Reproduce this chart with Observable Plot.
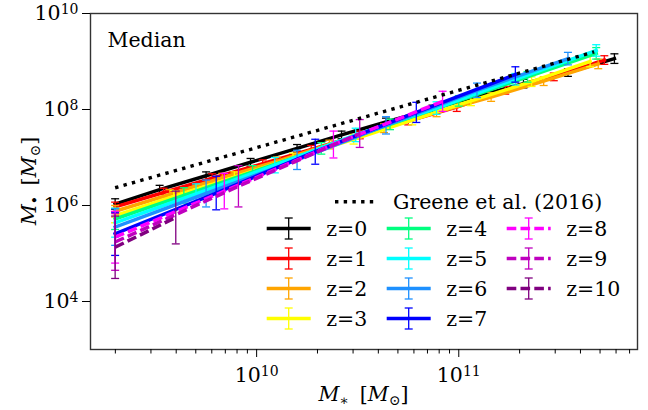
<!DOCTYPE html>
<html><head><meta charset="utf-8">
<script src="https://cdn.jsdelivr.net/npm/d3@7"></script>
<script src="https://cdn.jsdelivr.net/npm/@observablehq/plot@0.6"></script>
<style>body{margin:0;background:#fff;}</style>
</head><body><div id="chart"></div>
<script>
// ---- data (log10 values) ----
const seriesLabels = ["z=0","z=1","z=2","z=3","z=4","z=5","z=6","z=7","z=8","z=9","z=10"];
const seriesColors = ["black","red","orange","yellow","#00ff7f","cyan","#1e90ff","blue","magenta","#bf00bf","purple"];
const seriesDashed = [false,false,false,false,false,false,false,false,true,true,true];

const logMstar = [
  [9.30, 9.52, 9.75, 9.97, 10.20, 10.42, 10.64, 10.87, 11.09, 11.32, 11.54, 11.77],
  [9.30, 9.54, 9.78, 10.03, 10.27, 10.51, 10.75, 10.99, 11.23, 11.47, 11.72],
  [9.30, 9.57, 9.83, 10.10, 10.36, 10.63, 10.89, 11.16, 11.42, 11.69],
  [9.30, 9.59, 9.89, 10.18, 10.48, 10.77, 11.06, 11.36, 11.65],
  [9.30, 9.64, 9.98, 10.32, 10.66, 11.00, 11.34, 11.68],
  [9.30, 9.70, 10.09, 10.49, 10.89, 11.28, 11.68],
  [9.30, 9.75, 10.20, 10.64, 11.09, 11.54],
  [9.30, 9.80, 10.29, 10.79, 11.28],
  [9.30, 9.84, 10.38, 10.92],
  [9.30, 9.91, 10.51],
  [9.30, 9.60]
];
const logMbh = [
  [6.03, 6.33, 6.62, 6.90, 7.19, 7.47, 7.74, 8.01, 8.28, 8.54, 8.77, 9.06],
  [5.97, 6.27, 6.57, 6.87, 7.17, 7.47, 7.76, 8.05, 8.40, 8.68, 9.03],
  [5.88, 6.23, 6.58, 6.92, 7.27, 7.61, 7.94, 8.26, 8.59, 8.95],
  [5.79, 6.19, 6.59, 6.99, 7.38, 7.78, 8.18, 8.58, 9.00],
  [5.72, 6.21, 6.70, 7.19, 7.69, 8.18, 8.68, 9.17],
  [5.64, 6.24, 6.84, 7.47, 8.03, 8.63, 9.23],
  [5.55, 6.25, 6.95, 7.67, 8.40, 9.06],
  [5.41, 6.26, 7.12, 7.94, 8.73],
  [5.34, 6.30, 7.27, 8.17],
  [5.24, 6.40, 7.50],
  [5.13, 5.75]
];
const logErr = [
  [0.11, 0.09, 0.08, 0.08, 0.08, 0.08, 0.08, 0.08, 0.09, 0.09, 0.08, 0.10],
  [0.10, 0.09, 0.09, 0.08, 0.08, 0.08, 0.08, 0.09, 0.08, 0.08, 0.09],
  [0.12, 0.10, 0.09, 0.09, 0.09, 0.09, 0.09, 0.09, 0.09, 0.10],
  [0.15, 0.12, 0.11, 0.10, 0.10, 0.10, 0.10, 0.10, 0.11],
  [0.22, 0.16, 0.13, 0.12, 0.11, 0.11, 0.11, 0.12],
  [0.30, 0.21, 0.16, 0.14, 0.13, 0.12, 0.12],
  [0.38, 0.28, 0.20, 0.18, 0.15, 0.13],
  [0.45, 0.35, 0.26, 0.21, 0.16],
  [0.54, 0.37, 0.28, 0.21],
  [0.59, 0.43, 0.29],
  [0.65, 0.55]
];
const greeneLogMstar = [9.30, 11.67];
const greeneLogMbh = [6.37, 9.20];
const yTicks = [1e4, 1e6, 1e8, 1e10];
const xMajorTicks = [1e10, 1e11];
const xMinorTicks = [2e9,3e9,4e9,5e9,6e9,7e9,8e9,9e9,2e10,3e10,4e10,5e10,6e10,7e10,8e10,9e10,2e11,3e11,4e11,5e11,6e11,7e11];

// ---- build tables ----
const rows = seriesLabels.map((lab, s) => logMstar[s].map((lx, i) => ({
  series: lab,
  x: Math.pow(10, lx),
  y: Math.pow(10, logMbh[s][i]),
  y1: Math.pow(10, logMbh[s][i] - logErr[s][i]),
  y2: Math.pow(10, logMbh[s][i] + logErr[s][i])
})));
const greene = greeneLogMstar.map((lx, i) => ({x: Math.pow(10, lx), y: Math.pow(10, greeneLogMbh[i])}));

const cap = {draw(ctx, size) { const w = Math.sqrt(size / Math.PI); ctx.moveTo(-w, 0); ctx.lineTo(w, 0); }};
const DASH = "9.6,4.2";
const FS = 20.5;
const FONT = "DejaVu Serif";

const marks = [];
rows.forEach((data, s) => {
  const c = seriesColors[s];
  marks.push(Plot.line(data, {x: "x", y: "y", stroke: c, strokeWidth: 3.5,
    strokeDasharray: seriesDashed[s] ? DASH : null, strokeLinecap: seriesDashed[s] ? "butt" : "square",
    strokeLinejoin: "round"}));
  marks.push(Plot.ruleX(data, {x: "x", y1: "y1", y2: "y2", stroke: c, strokeWidth: 1.3}));
  marks.push(Plot.dot(data, {x: "x", y: "y1", symbol: cap, r: 4, stroke: c, fill: "none", strokeWidth: 1.3}));
  marks.push(Plot.dot(data, {x: "x", y: "y2", symbol: cap, r: 4, stroke: c, fill: "none", strokeWidth: 1.3}));
});
marks.push(Plot.line(greene, {x: "x", y: "y", stroke: "black", strokeWidth: 3.4, strokeDasharray: "3.4,5.3", strokeLinecap: "butt"}));
marks.push(Plot.text(["Median"], {frameAnchor: "top-left", dx: 17, dy: 19, fontSize: FS, fill: "black"}));
marks.push(Plot.frame({stroke: "#333", strokeWidth: 1.4}));
marks.push(Plot.axisY({ticks: yTicks, tickSize: 8, tickPadding: 4, label: null, fontSize: FS,
  tickFormat: d => "10^" + Math.round(Math.log10(d))}));
marks.push(Plot.axisX({ticks: xMajorTicks, tickSize: 8, tickPadding: 10, label: null, fontSize: FS,
  tickFormat: d => "10^" + Math.round(Math.log10(d))}));
marks.push(Plot.axisX({ticks: xMinorTicks, tickSize: 4.5, label: null, tickFormat: () => ""}));

const svgEl = Plot.plot({
  width: 648, height: 410,
  marginLeft: 90, marginRight: 11, marginTop: 13, marginBottom: 61,
  style: {fontFamily: FONT, fontSize: FS + "px", background: "white", color: "black"},
  x: {type: "log", domain: [1.507e9, 7.66e11]},
  y: {type: "log", domain: [1e3, 1e10]},
  marks
});
document.getElementById("chart").appendChild(svgEl);

const svg = d3.select(svgEl);
// superscript tick labels
svg.selectAll("text").each(function() {
  const t = this.textContent;
  const m = /^10\^(\d+)$/.exec(t);
  if (m) {
    const sel = d3.select(this);
    sel.text("10");
    sel.append("tspan").attr("dy", "-0.42em").attr("font-size", "14px").text(m[1]);
  }
});

function mathLabel(g, sub) {
  const t = g.append("text").attr("text-anchor", "middle").attr("font-size", FS).attr("fill", "black")
    .attr("font-family", FONT);
  t.append("tspan").attr("font-style", "italic").text("M");
  t.append("tspan").attr("dy", 4).attr("font-size", 14).text(sub);
  t.append("tspan").attr("dy", -4).text("\u2009 [");
  t.append("tspan").attr("font-style", "italic").text("M");
  t.append("tspan").attr("dy", 4).attr("font-size", 14).text("\u2299");
  t.append("tspan").attr("dy", -4).text("]");
  return t;
}
mathLabel(svg.append("g").attr("transform", "translate(363.5,401)"), "\u2217");
mathLabel(svg.append("g").attr("transform", "translate(36,181) rotate(-90)"), "\u2022");

// legend (inside the axes, pixel layout)
const leg = svg.append("g").attr("text-anchor", "start").attr("font-family", FONT).attr("font-size", FS);
leg.append("line").attr("x1", 335).attr("x2", 375).attr("y1", 201.7).attr("y2", 201.7)
  .attr("stroke", "black").attr("stroke-width", 3.4).attr("stroke-dasharray", "3.4,5.3");
leg.append("text").attr("x", 393).attr("y", 209).attr("text-anchor", "start").attr("fill", "black").text("Greene et al. (2016)");
const colX = [266.7, 386.7, 506.7];
seriesLabels.forEach((lab, s) => {
  const col = Math.floor(s / 4), row = s % 4;
  const x0 = colX[col], x1 = x0 + 44, y = 228.5 + row * 30, xm = (x0 + x1) / 2;
  const c = seriesColors[s];
  leg.append("line").attr("x1", x0).attr("x2", x1).attr("y1", y).attr("y2", y)
    .attr("stroke", c).attr("stroke-width", 3.6).attr("stroke-dasharray", seriesDashed[s] ? DASH : null);
  leg.append("line").attr("x1", xm).attr("x2", xm).attr("y1", y - 10.5).attr("y2", y + 10.5).attr("stroke", c).attr("stroke-width", 1.3);
  leg.append("line").attr("x1", xm - 4).attr("x2", xm + 4).attr("y1", y - 10.5).attr("y2", y - 10.5).attr("stroke", c).attr("stroke-width", 1.3);
  leg.append("line").attr("x1", xm - 4).attr("x2", xm + 4).attr("y1", y + 10.5).attr("y2", y + 10.5).attr("stroke", c).attr("stroke-width", 1.3);
  leg.append("text").attr("x", x0 + 59.5).attr("y", y + 7.3).attr("text-anchor", "start").attr("fill", "black").text(lab);
});
</script></body></html>
